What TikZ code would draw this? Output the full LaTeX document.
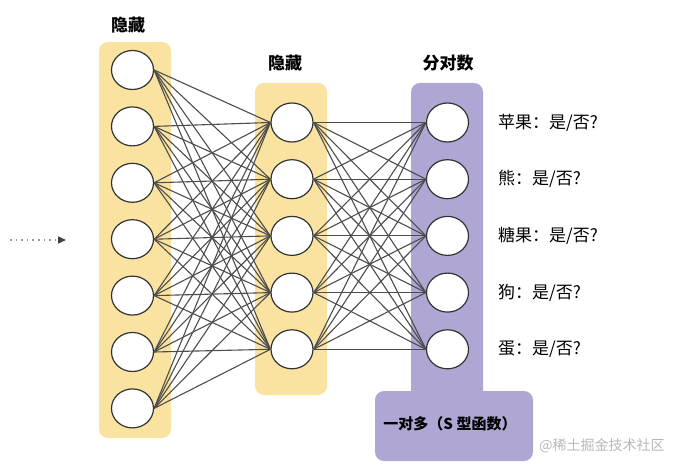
\documentclass[tikz,border=0pt]{standalone}
\usepackage{fontspec}
\setmainfont{Noto Sans CJK SC}
\usetikzlibrary{arrows.meta, positioning, shapes.geometric}
\definecolor{gelb}{HTML}{FAE3A0}
\definecolor{lila}{HTML}{AFA6D4}
\definecolor{kante}{HTML}{4D4D4D}

\begin{document}
\begin{tikzpicture}[x=1pt, y=-1pt, line join=round,
    neuron/.style={ellipse, draw=black!80, line width=1.2pt, fill=white,
      minimum width=42pt, minimum height=39pt, inner sep=0pt},
    verb/.style={kante, line width=1.1pt},
    titel/.style={font=\fontsize{17}{20}\selectfont\bfseries},
    antwort/.style={font=\fontsize{17}{20}\selectfont, anchor=west, inner sep=0pt}]
    \useasboundingbox (0,0) rectangle (680,468);
    % Hintergrundflaechen
    \fill[gelb, rounded corners=9pt] (99,42) rectangle (171,438);
    \fill[gelb, rounded corners=9pt] (255,83) rectangle (327,395);
    \fill[lila, rounded corners=9pt] (411,83) rectangle (483,400);
    \fill[lila, rounded corners=9pt] (375,391) rectangle (533,461);
    % Schichten
    \foreach \i in {1,...,7}
      \node[neuron] (A\i) at ({132.5},{70+56.4*(\i-1)}) {};
    \foreach \i in {1,...,5}
      \node[neuron] (B\i) at ({292},{122.5+56.7*(\i-1)}) {};
    \foreach \i in {1,...,5}
      \node[neuron] (C\i) at ({447.5},{122.5+56.7*(\i-1)}) {};
    % Verbindungen
    \foreach \i in {1,...,7}
      \foreach \j in {1,...,5}
        \draw[verb] (A\i.east) -- (B\j.west);
    \foreach \i in {1,...,5}
      \foreach \j in {1,...,5}
        \draw[verb] (B\i.east) -- (C\j.west);
    % Eingangspfeil
    \coordinate (P0) at (10,240);
    \coordinate (P1) at (66,240);
    \draw[black!40, line width=1.6pt, dash pattern=on 1.6pt off 4pt,
      -{Triangle[length=8pt, width=7pt, color=black!75]}] (P0) -- (P1);
    % Beschriftungen
    \node[titel] (T1) at (128,25) {隐藏};
    \node[titel] (T2) at (285,63) {隐藏};
    \node[titel] (T3) at (448,63) {分对数};
    \node[antwort] (L1) at (498,122.5) {苹果：是/否?};
    \node[antwort] (L2) at (498,179.2) {熊：是/否?};
    \node[antwort] (L3) at (498,235.9) {糖果：是/否?};
    \node[antwort] (L4) at (498,292.6) {狗：是/否?};
    \node[antwort] (L5) at (498,349.3) {蛋：是/否?};
    \node[font=\fontsize{15}{18}\selectfont\bfseries] (S) at (450,424) {一对多（S 型函数）};
    \node[font=\fontsize{14}{16}\selectfont, text=black!28] (W) at (602,446) {@稀土掘金技术社区};
\end{tikzpicture}
\end{document}
